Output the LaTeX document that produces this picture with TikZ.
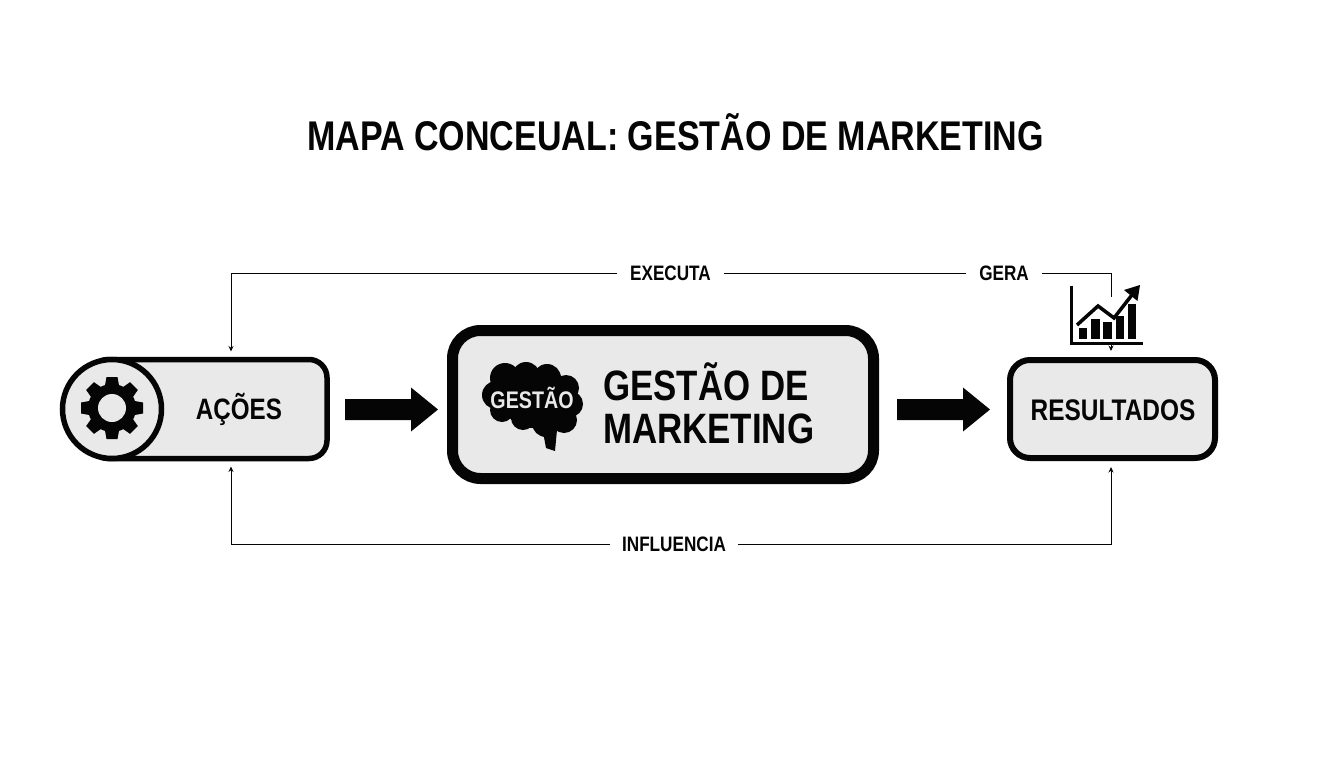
\documentclass[tikz,border=0pt]{standalone}
\usepackage{fontspec}
\setmainfont{Liberation Sans}[FakeStretch=0.82]
\usetikzlibrary{arrows.meta}
\definecolor{boxfill}{HTML}{E9E9E9}
\definecolor{ink}{HTML}{050505}
\newcommand{\px}[1]{\fontsize{#1}{#1}\selectfont\bfseries}
\newcommand{\blockarrow}[1]{\fill[ink] (#1) ++(0,-10.5) -- ++(66,0) -- ++(0,-11.5) -- ++(27,22) -- ++(-27,22) -- ++(0,-11.5) -- ++(-66,0) -- cycle;}
\tikzset{
  box/.style={draw=ink,fill=boxfill,line width=#1,inner sep=0pt},
  lab/.style={text=ink,inner sep=0pt,anchor=center},
  linklab/.style={fill=white,text=ink,font=\px{20.9},inner sep=0pt,minimum height=16pt},
  link/.style={draw=ink,line width=1pt},
  tip/.style={-{Stealth[length=5.5pt,width=5pt]}}
}
\begin{document}
\begin{tikzpicture}[x=1pt,y=-1pt]
\useasboundingbox (0,0) rectangle (1344,768);
\fill[white] (0,0) rectangle (1344,768);
\node[lab,font=\px{41.5},anchor=base] (title) at (675.5,150) {MAPA CONCEUAL: GESTÃO DE MARKETING};

% boxes
\node[box=5.5pt,rounded corners=18pt,minimum width=237pt,minimum height=99pt] (acbox) at (208.5,409) {};
\node[box=5.5pt,circle,minimum size=99pt] (accirc) at (112,409) {};
\node[lab,font=\px{29.5}] (actext) at (239,409) {AÇÕES};
\node[box=11pt,rounded corners=28pt,minimum width=421pt,minimum height=148pt] (gm) at (663,404.5) {};
\node[box=6pt,rounded corners=20pt,minimum width=205pt,minimum height=98pt] (re) at (1112.5,409) {};
\node[lab,font=\px{29.8}] (retext) at (1113,410) {RESULTADOS};

% gear
\fill[ink] (112,408) circle (24);
\foreach \a in {0,45,...,315}
  \fill[ink,shift={(112,408)},rotate=\a] (-7.5,-20) -- (-5.5,-31) -- (5.5,-31) -- (7.5,-20) -- cycle;
\fill[boxfill] (112,408) circle (14);

% brain
\fill[ink] (532,398) circle (30);
\fill[ink] (543,432) -- (546,448) -- (555,451) -- (557,430) -- cycle;
\foreach \p/\r in {{496,395}/14,{505,378}/15,{526,376}/14,{547,378}/14,{566,388}/13,{570,404}/13,{564,420}/13,{546,423}/14,{523,418}/12,{502,410}/12}
  \fill[ink] (\p) circle (\r);
\node[lab,text=boxfill,font=\px{24}] (brainlabel) at (532,398) {GESTÃO};

% title of central box
\node[lab,font=\px{42.5},anchor=base west] (gm1) at (603,400) {GESTÃO DE};
\node[lab,font=\px{42.5},anchor=base west] (gm2) at (603,443) {MARKETING};

% block arrows
\coordinate (a1) at (345,409.5);
\coordinate (a2) at (897,409.5);
\blockarrow{a1}
\blockarrow{a2}

% thin connectors
\node[linklab,minimum width=106pt] (ex) at (670.5,273) {EXECUTA};
\node[linklab,minimum width=75pt] (ge) at (1004,273) {GERA};
\node[linklab,minimum width=128pt] (in) at (674,544) {INFLUENCIA};
\coordinate (actop) at (231,351.5);
\coordinate (acbot) at (231,466.5);
\coordinate (retop) at (1111,351);
\coordinate (rebot) at (1111,467);
\draw[link,tip] (ex.west) -| (actop);
\draw[link] (ex.east) -- (ge.west);
\draw[link,tip] (ge.east) -| (retop);
\draw[link,tip] (in.west) -| (acbot);
\draw[link,tip] (in.east) -| (rebot);

% chart
\fill[white] (1069,296.5) rectangle (1144,345);
\draw[ink,line width=3pt] (1071,285.5) -- (1071,343.5) -- (1143,343.5);
\foreach \xa/\xb/\yt in {1079/1087/328,1091/1099.5/318.5,1103/1112/322,1115.5/1123.5/316,1128/1136/303.5}
  \fill[ink] (\xa,\yt) rectangle (\xb,338.5);
\draw[ink,line width=3.5pt] (1077,325) -- (1098,306) -- (1114,318) -- (1135,291);
\fill[ink] (1140,285) -- (1137.5,301) -- (1124,290) -- cycle;
\end{tikzpicture}
\end{document}
